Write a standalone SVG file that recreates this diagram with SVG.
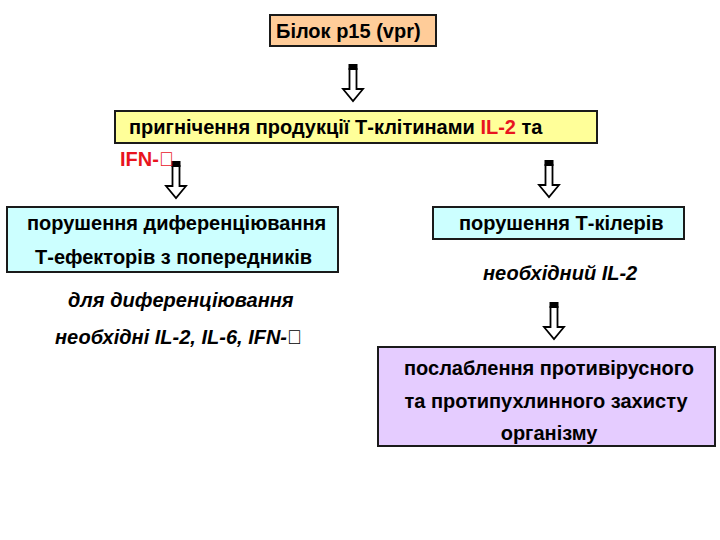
<svg xmlns="http://www.w3.org/2000/svg" xmlns:xlink="http://www.w3.org/1999/xlink" width="720" height="540" viewBox="0 0 720 540">
<style>
  .box { stroke: #1a1a1a; stroke-width: 2; }
  .t { font-family: "Liberation Sans", Arial, sans-serif; font-size: 20px; font-weight: bold; fill: #000; }
  .it { font-style: italic; }
  .nit { font-style: normal; }
  .red { fill: #E8141E; }
  .shaft { fill: #fff; stroke: #000; stroke-width: 1.8; stroke-linejoin: miter; }
</style>
<defs>
  <g id="arr">
    <path class="shaft" d="M-3.5 5 L-3.5 25 L-10 25 L0 37 L10 25 L3.5 25 L3.5 5 Z"/>
    <rect x="-4.5" y="0" width="9" height="6" fill="#000"/>
  </g>
</defs>
<rect width="720" height="540" fill="#fff"/>

<g id="connectors">
  <use xlink:href="#arr" transform="translate(353,64)"/>
  <use xlink:href="#arr" transform="translate(176,161)"/>
  <use xlink:href="#arr" transform="translate(549,160)"/>
  <use xlink:href="#arr" transform="translate(554,302)"/>
</g>

<g id="node-p15">
  <rect class="box" x="270" y="15" width="166" height="31" fill="#FFCC99"/>
  <text class="t" x="276" y="38">Білок р15 (vpr)</text>
</g>

<g id="node-suppression">
  <rect class="box" x="115" y="111" width="482" height="32" fill="#FFFF99"/>
  <text class="t" x="129" y="134">пригнічення продукції Т-клітинами <tspan class="red">IL-2</tspan> та</text>
  <text class="t red" x="120" y="166">IFN-&#xF067;</text>
</g>

<g id="node-diff">
  <rect class="box" x="7" y="207" width="331" height="65" fill="#CCFFFF"/>
  <text class="t" x="27" y="230">порушення диференціювання</text>
  <text class="t" x="35" y="264">Т-ефекторів з попередників</text>
</g>

<g id="note-diff">
  <text class="t it" x="68" y="307">для диференціювання</text>
  <text class="t it" x="55" y="344">необхідні IL-2, IL-6, IFN-<tspan class="nit">&#xF067;</tspan></text>
</g>

<g id="node-killers">
  <rect class="box" x="433" y="207" width="251" height="32" fill="#CCFFFF"/>
  <text class="t" x="459" y="230">порушення Т-кілерів</text>
</g>

<g id="note-killers">
  <text class="t it" x="483" y="280">необхідний IL-2</text>
</g>

<g id="node-weakening">
  <rect class="box" x="378" y="347" width="337" height="99" fill="#E5CCFF"/>
  <text class="t" x="549" y="375" text-anchor="middle">послаблення противірусного</text>
  <text class="t" x="546" y="408" text-anchor="middle">та протипухлинного захисту</text>
  <text class="t" x="549" y="440" text-anchor="middle">організму</text>
</g>
</svg>
